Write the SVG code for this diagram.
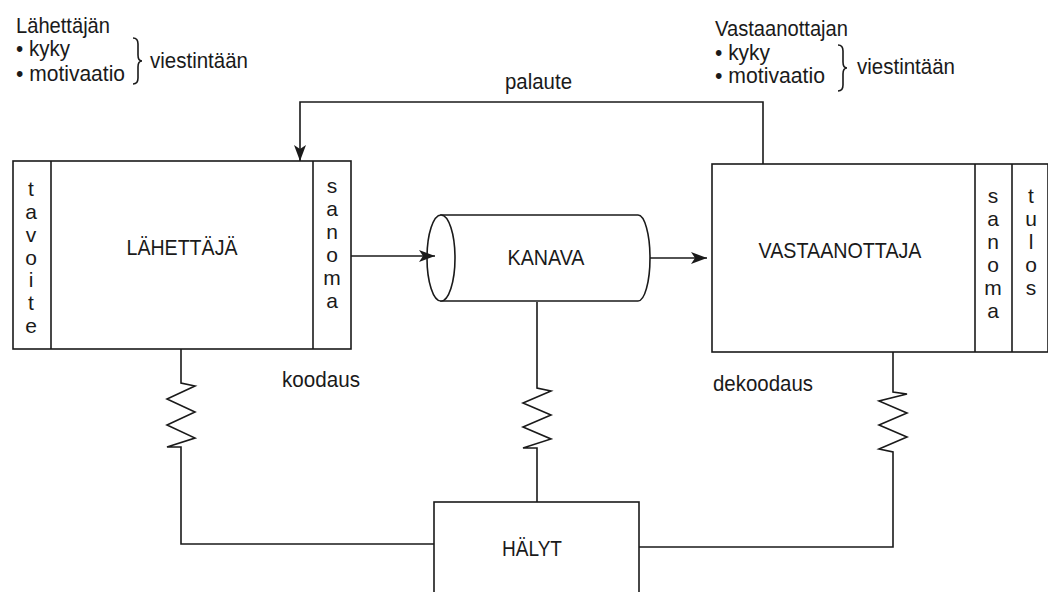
<svg xmlns="http://www.w3.org/2000/svg" width="1048" height="592" viewBox="0 0 1048 592">
<defs>
<style>
.ln{fill:none;stroke:#1a1a1a;stroke-width:1.6;stroke-linejoin:miter}
.bx{fill:#fff;stroke:#1a1a1a;stroke-width:1.6}
text{font-family:"Liberation Sans",Arial,sans-serif;fill:#1a1a1a}
.t{font-size:22px}
.big{font-size:22px;text-anchor:middle}
.v{font-size:21px;text-anchor:middle}
</style>
<marker id="ah" viewBox="0 0 16 12" refX="16" refY="6" markerWidth="16" markerHeight="12" markerUnits="userSpaceOnUse" orient="auto">
<path d="M0,0 L16,6 L0,12 L4,6 Z" fill="#1a1a1a"/>
</marker>
</defs>
<rect width="1048" height="592" fill="#fff"/>

<g id="sender-caption">
<text class="t" x="16" y="33" textLength="94" lengthAdjust="spacingAndGlyphs">Lähettäjän</text>
<text class="t" x="16" y="56" textLength="54" lengthAdjust="spacingAndGlyphs">• kyky</text>
<text class="t" x="16" y="81" textLength="109" lengthAdjust="spacingAndGlyphs">• motivaatio</text>
<path class="ln" d="M133,38 Q138,38 138,44 L138,55 Q138,61 142,61 Q138,61 138,67 L138,78 Q138,84 133,84" stroke-width="1.3"/>
<text class="t" x="150" y="68" textLength="98" lengthAdjust="spacingAndGlyphs">viestintään</text>
</g>

<g id="receiver-caption">
<text class="t" x="715" y="36" textLength="133" lengthAdjust="spacingAndGlyphs">Vastaanottajan</text>
<text class="t" x="715" y="60" textLength="55" lengthAdjust="spacingAndGlyphs">• kyky</text>
<text class="t" x="715" y="83" textLength="110" lengthAdjust="spacingAndGlyphs">• motivaatio</text>
<path class="ln" d="M838,45 Q843,45 843,51 L843,62 Q843,68 847,68 Q843,68 843,74 L843,85 Q843,91 838,91" stroke-width="1.3"/>
<text class="t" x="857" y="74" textLength="98" lengthAdjust="spacingAndGlyphs">viestintään</text>
</g>

<g id="lahettaja">
<rect class="bx" x="13" y="161" width="338" height="188"/>
<line class="ln" x1="51" y1="161" x2="51" y2="349"/>
<line class="ln" x1="313" y1="161" x2="313" y2="349"/>
<text class="big" x="182" y="255" textLength="111" lengthAdjust="spacingAndGlyphs">LÄHETTÄJÄ</text>
<g class="v">
<text x="31" y="196">t</text><text x="31" y="219">a</text><text x="31" y="242">v</text><text x="31" y="265">o</text><text x="31" y="287">i</text><text x="31" y="310">t</text><text x="31" y="333">e</text>
</g>
<g class="v">
<text x="332" y="193">s</text><text x="332" y="216">a</text><text x="332" y="239">n</text><text x="332" y="262">o</text><text x="332" y="285">m</text><text x="332" y="308">a</text>
</g>
</g>

<g id="kanava">
<path class="bx" d="M441,215 L638,215 A12,43 0 0 1 638,301 L441,301 Z"/>
<ellipse class="bx" cx="441" cy="258" rx="14" ry="43"/>
<text class="big" x="546" y="265" textLength="77" lengthAdjust="spacingAndGlyphs">KANAVA</text>
</g>

<g id="vastaanottaja">
<rect class="bx" x="712" y="164" width="336" height="188"/>
<line class="ln" x1="975" y1="164" x2="975" y2="352"/>
<line class="ln" x1="1012" y1="164" x2="1012" y2="352"/>
<text class="big" x="840" y="258" textLength="163" lengthAdjust="spacingAndGlyphs">VASTAANOTTAJA</text>
<g class="v">
<text x="993" y="203">s</text><text x="993" y="226">a</text><text x="993" y="249">n</text><text x="993" y="272">o</text><text x="993" y="295">m</text><text x="993" y="318">a</text>
</g>
<g class="v">
<text x="1031" y="203">t</text><text x="1031" y="226">u</text><text x="1031" y="249">l</text><text x="1031" y="272">o</text><text x="1031" y="295">s</text>
</g>
</g>

<g id="halyt">
<rect class="bx" x="434" y="502" width="205" height="92"/>
<text class="big" x="532" y="556" textLength="60" lengthAdjust="spacingAndGlyphs">HÄLYT</text>
</g>

<g id="connectors">
<path class="ln" d="M763,164 L763,102 L300,102 L300,161" marker-end="url(#ah)"/>
<path class="ln" d="M351,256 L435,256" marker-end="url(#ah)"/>
<path class="ln" d="M650,258 L707,258" marker-end="url(#ah)"/>
<path class="ln" d="M181,349 L181,383 L195,386 L167,399 L195,412 L167,425 L195,438 L167,447 L181,447 L181,544 L434,544"/>
<path class="ln" d="M537,302 L537,388 L551,391 L523,403 L551,415 L523,427 L551,439 L523,448 L537,448 L537,502"/>
<path class="ln" d="M639,547 L893,547 L893,452 L879,449 L907,437 L879,425 L907,413 L879,401 L907,394 L893,392 L893,352"/>
<text class="t" x="505" y="89" textLength="67" lengthAdjust="spacingAndGlyphs">palaute</text>
<text class="t" x="282" y="387" textLength="78" lengthAdjust="spacingAndGlyphs">koodaus</text>
<text class="t" x="713" y="391" textLength="100" lengthAdjust="spacingAndGlyphs">dekoodaus</text>
</g>
</svg>
